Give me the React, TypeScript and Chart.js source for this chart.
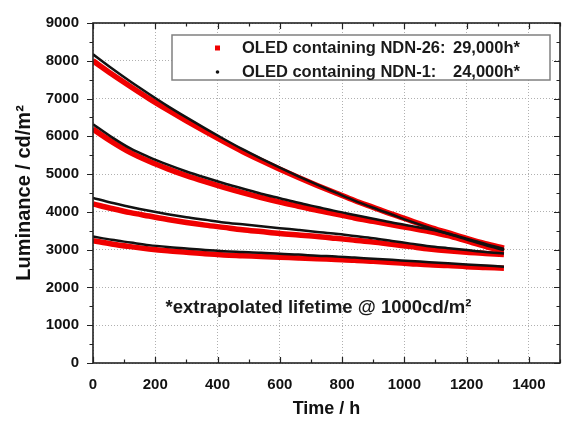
import React, { useEffect, useRef } from "react";
import { Chart, registerables } from "chart.js";
Chart.register(...registerables);

// Time axis (h) at which values were read
const TIME_H = [0, 60, 120, 180, 240, 300, 360, 420, 480, 540, 600, 660, 720, 780, 840, 900, 960, 1020, 1080, 1140, 1200, 1260, 1320];

// Luminance (cd/m²) – four start luminances, NDN-26 (red) and NDN-1 (black)
const NDN26_RUN1 = [8000, 7650, 7320, 7000, 6700, 6410, 6130, 5860, 5600, 5360, 5130, 4910, 4700, 4500, 4300, 4120, 3940, 3770, 3600, 3450, 3300, 3160, 3040];
const NDN1_RUN1 = [8170, 7800, 7450, 7120, 6800, 6500, 6210, 5930, 5660, 5410, 5170, 4940, 4720, 4510, 4300, 4110, 3930, 3750, 3580, 3420, 3270, 3120, 2990];
const NDN26_RUN2 = [6190, 5860, 5570, 5340, 5140, 4960, 4800, 4650, 4510, 4380, 4260, 4150, 4040, 3940, 3840, 3750, 3660, 3570, 3480, 3370, 3230, 3090, 2960];
const NDN1_RUN2 = [6320, 5980, 5680, 5450, 5250, 5070, 4910, 4760, 4620, 4480, 4360, 4240, 4130, 4020, 3920, 3820, 3720, 3630, 3540, 3430, 3290, 3150, 3020];
const NDN26_RUN3 = [4210, 4090, 3980, 3890, 3800, 3720, 3650, 3590, 3530, 3480, 3430, 3390, 3350, 3300, 3250, 3200, 3140, 3080, 3020, 2970, 2930, 2900, 2870];
const NDN1_RUN3 = [4370, 4240, 4130, 4030, 3940, 3860, 3790, 3720, 3670, 3620, 3570, 3520, 3470, 3420, 3360, 3300, 3230, 3160, 3090, 3040, 2990, 2940, 2900];
const NDN26_RUN4 = [3240, 3150, 3080, 3020, 2970, 2930, 2890, 2860, 2840, 2820, 2800, 2780, 2760, 2740, 2720, 2690, 2660, 2630, 2600, 2580, 2550, 2530, 2510];
const NDN1_RUN4 = [3350, 3260, 3190, 3120, 3070, 3030, 2990, 2960, 2940, 2920, 2890, 2870, 2840, 2820, 2790, 2760, 2730, 2700, 2670, 2640, 2610, 2580, 2550];

const X_TICKS = [0, 200, 400, 600, 800, 1000, 1200, 1400];
const Y_TICKS = [0, 1000, 2000, 3000, 4000, 5000, 6000, 7000, 8000, 9000];
const X_MIN = 0, X_MAX = 1500, X_MINOR = 100;
const Y_MIN = 0, Y_MAX = 9000, Y_MINOR = 500;

const X_TITLE = "Time / h";
const Y_TITLE = "Luminance / cd/m²";
const LEGEND_NAMES = ["OLED containing NDN-26:", "OLED containing NDN-1:"];
const LEGEND_LIFETIMES = ["29,000h*", "24,000h*"];
const NOTE = "*extrapolated lifetime @ 1000cd/m²";

const RED = "#f00000";
const BLACK = "#111111";
const FONT = '"Liberation Sans", Arial, sans-serif';

const pts = (vals: number[]) => TIME_H.map((t, i) => ({ x: t, y: vals[i] }));

const redSet = (label: string, vals: number[]) => ({
  label,
  data: pts(vals),
  borderColor: RED,
  backgroundColor: RED,
  borderWidth: 5.5,
  pointRadius: 0,
  showLine: true,
  cubicInterpolationMode: "monotone" as const,
  order: 2,
});
const blackSet = (label: string, vals: number[]) => ({
  label,
  data: pts(vals),
  borderColor: BLACK,
  backgroundColor: BLACK,
  borderWidth: 2.5,
  pointRadius: 0,
  showLine: true,
  cubicInterpolationMode: "monotone" as const,
  order: 1,
});

const framePlugin = {
  id: "frameTicks",
  afterDatasetsDraw(chart: any) {
    const { ctx, chartArea: a, scales } = chart;
    const x = scales.x, y = scales.y;
    ctx.save();
    ctx.strokeStyle = "#222";
    ctx.lineWidth = 1.2;
    ctx.beginPath();
    for (let v = X_MIN; v <= X_MAX; v += X_MINOR) {
      const px = Math.round(x.getPixelForValue(v)) + 0.5;
      const len = v % 200 === 0 ? 6 : 3.5;
      ctx.moveTo(px, a.bottom);
      ctx.lineTo(px, a.bottom - len);
      ctx.moveTo(px, a.top);
      ctx.lineTo(px, a.top + len);
    }
    for (let v = Y_MIN; v <= Y_MAX; v += Y_MINOR) {
      const py = Math.round(y.getPixelForValue(v)) + 0.5;
      const major = v % 1000 === 0;
      ctx.moveTo(a.left, py);
      ctx.lineTo(a.left - (major ? 6 : 3.5), py);
      ctx.moveTo(a.right, py);
      ctx.lineTo(a.right - (major ? 6 : 3.5), py);
    }
    ctx.stroke();
    ctx.lineWidth = 1.6;
    ctx.strokeStyle = "#222";
    ctx.strokeRect(a.left, a.top, a.right - a.left, a.bottom - a.top);
    ctx.restore();
  },
  afterDraw(chart: any) {
    const { ctx, chartArea: a } = chart;
    ctx.save();
    // legend box
    const bx = 172, by = 35, bw = 378, bh = 45;
    ctx.fillStyle = "#ffffff";
    ctx.fillRect(bx, by, bw, bh);
    ctx.strokeStyle = "#808080";
    ctx.lineWidth = 1.5;
    ctx.strokeRect(bx, by, bw, bh);
    ctx.font = `bold 16.5px ${FONT}`;
    ctx.textBaseline = "middle";
    ctx.textAlign = "left";
    const rows = [48, 72];
    // red square marker
    ctx.fillStyle = RED;
    ctx.fillRect(215, rows[0] - 2.5, 5, 5);
    // black dot marker
    ctx.fillStyle = BLACK;
    ctx.beginPath();
    ctx.arc(217.5, rows[1], 1.8, 0, Math.PI * 2);
    ctx.fill();
    ctx.fillStyle = "#1a1a1a";
    for (let i = 0; i < 2; i++) {
      ctx.fillText(LEGEND_NAMES[i], 242, rows[i]);
      ctx.fillText(LEGEND_LIFETIMES[i], 453, rows[i]);
    }
    // note
    ctx.font = `bold 18.5px ${FONT}`;
    ctx.textAlign = "center";
    ctx.fillText(NOTE, (a.left + a.right) / 2 - 8, 308);
    ctx.restore();
  },
};

export default function App() {
  const ref = useRef<HTMLCanvasElement>(null);
  useEffect(() => {
    if (!ref.current) return;
    const tickFont = { family: FONT, size: 15, weight: "bold" as const };
    const chart = new Chart(ref.current, {
      type: "scatter",
      data: {
        datasets: [
          redSet("NDN-26 run 1", NDN26_RUN1),
          redSet("NDN-26 run 2", NDN26_RUN2),
          redSet("NDN-26 run 3", NDN26_RUN3),
          redSet("NDN-26 run 4", NDN26_RUN4),
          blackSet("NDN-1 run 1", NDN1_RUN1),
          blackSet("NDN-1 run 2", NDN1_RUN2),
          blackSet("NDN-1 run 3", NDN1_RUN3),
          blackSet("NDN-1 run 4", NDN1_RUN4),
        ],
      },
      options: {
        animation: false,
        responsive: false,
        devicePixelRatio: 1,
        layout: { padding: { left: 0, right: 8, top: 15, bottom: 0 } },
        plugins: { legend: { display: false }, tooltip: { enabled: false } },
        scales: {
          x: {
            type: "linear",
            min: X_MIN,
            max: X_MAX,
            afterBuildTicks: (s: any) => {
              s.ticks = X_TICKS.map((v) => ({ value: v }));
            },
            afterFit: (s: any) => {
              s.height = 61;
            },
            grid: { drawTicks: false, color: "#b0b0b0", lineWidth: 1 },
            border: { display: false, dash: [1, 2] },
            ticks: {
              padding: 13,
              font: tickFont,
              color: "#111",
              maxRotation: 0,
              autoSkip: false,
              callback: (v: any) => String(v),
            },
            title: {
              display: true,
              text: X_TITLE,
              color: "#111",
              font: { family: FONT, size: 18, weight: "bold" },
              padding: { top: 0, bottom: 4 },
            },
          },
          y: {
            type: "linear",
            min: Y_MIN,
            max: Y_MAX,
            afterBuildTicks: (s: any) => {
              s.ticks = Y_TICKS.map((v) => ({ value: v }));
            },
            afterFit: (s: any) => {
              s.width = 93;
            },
            grid: { drawTicks: false, color: "#b0b0b0", lineWidth: 1 },
            border: { display: false, dash: [1, 2] },
            ticks: {
              padding: 14,
              font: tickFont,
              color: "#111",
              autoSkip: false,
              callback: (v: any) => String(v),
            },
            title: {
              display: true,
              text: Y_TITLE,
              color: "#111",
              font: { family: FONT, size: 20, weight: "bold" },
              padding: { top: 12, bottom: 0 },
            },
          },
        },
      },
      plugins: [framePlugin],
    } as any);
    return () => chart.destroy();
  }, []);
  return (
    <div style={{ position: "absolute", left: 0, top: 0, width: 568, height: 424, background: "#fff" }}>
      <canvas ref={ref} width={568} height={424} style={{ display: "block" }} />
    </div>
  );
}
